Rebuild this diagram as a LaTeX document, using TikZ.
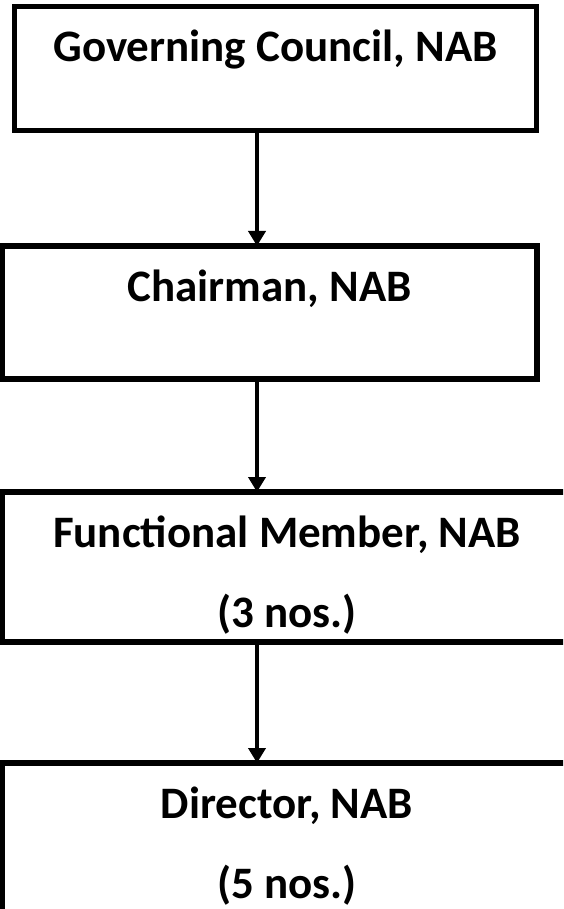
\documentclass[tikz,border=0pt]{standalone}
\usepackage{fontspec}
\setmainfont{Carlito}
\usepackage{tikz}
\usetikzlibrary{arrows.meta,positioning,calc}
\tikzset{
    orgbox/.style={
        draw=black,
        line width=5.5pt,
        rectangle,
        inner sep=0pt,
        outer sep=0pt,
        anchor=north west
    },
    boxtext/.style={
        anchor=base,
        inner sep=0pt,
        align=center,
        font=\fontsize{45}{80}\selectfont\bfseries
    },
    link/.style={
        line width=4.5pt,
        -{Triangle[width=17pt,length=15pt]}
    }
}

\begin{document}
\begin{tikzpicture}[x=1pt,y=-1pt]
\useasboundingbox (0,0) rectangle (563,909);
\clip (0,0) rectangle (563,909);

\node[orgbox, minimum width=522pt, minimum height=124pt] (council) at (14.5,6.5) {};
\node[orgbox, minimum width=535pt, minimum height=133pt] (chairman) at (2,246) {};
\node[orgbox, minimum width=570pt, minimum height=150pt] (member) at (2,492) {};
\node[orgbox, minimum width=570pt, minimum height=197pt] (director) at (2,763) {};

\node[boxtext] (councilText) at ([yshift=-55pt]council.north) {Governing Council, NAB};
\node[boxtext] (chairmanText) at ([yshift=-55pt]chairman.north) {Chairman, NAB};
\node[boxtext] (memberText) at ([yshift=-55pt]member.north) {Functional Member, NAB};
\node[boxtext] (memberNos) at ([yshift=-135pt]member.north) {(3 nos.)};
\node[boxtext] (directorText) at ([yshift=-55pt]director.north) {Director, NAB};
\node[boxtext] (directorNos) at ([yshift=-135pt]director.north) {(5 nos.)};

% arrows run down a common line, left of the box centres
\coordinate (spine) at (257,0);
\draw[link] (council.south -| spine) -- (chairman.north -| spine);
\draw[link] (chairman.south -| spine) -- (member.north -| spine);
\draw[link] (member.south -| spine) -- (director.north -| spine);
\end{tikzpicture}
\end{document}
